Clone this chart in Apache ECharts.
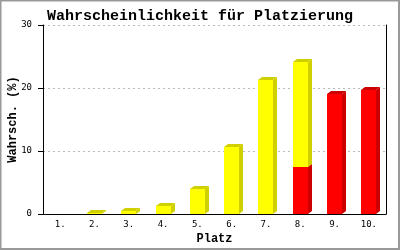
<!DOCTYPE html>
<html><head><meta charset="utf-8">
<script src="https://cdn.jsdelivr.net/npm/echarts@6/dist/echarts.min.js"></script>
<style>html,body{margin:0;padding:0;background:#fff}#c{width:400px;height:250px}</style>
</head><body><div id="c"></div>
<script>
var categories = ['1.', '2.', '3.', '4.', '5.', '6.', '7.', '8.', '9.', '10.'];
var redValues = [0, 0, 0, 0, 0, 0, 0, 7.4, 19.1, 19.7];
var yellowValues = [0, 0.2, 0.4, 1.2, 4.0, 10.7, 21.2, 16.8, 0, 0];
var yTicks = [0, 10, 20, 30];

var FONT = 'Liberation Mono';

function barData(lower, upper) {
  return categories.map(function (c, i) {
    var base = lower ? lower[i] : 0;
    return [i, base, base + upper[i]];
  });
}

function render3D(front, dark) {
  return function (params, api) {
    var i = api.value(0), b = api.value(1), t = api.value(2);
    if (t - b <= 0) return null;
    var pb = api.coord([i, b]);
    var pt = api.coord([i, t]);
    var w = Math.round(api.size([1, 0])[0] * 0.44);
    var x0 = Math.round(pb[0] - 7.5);
    var x1 = x0 + w;
    var yb = Math.round(pb[1]);
    var yt = Math.round(pt[1]);
    var dx = 4, dy = 3;
    return {
      type: 'group',
      children: [
        { type: 'polygon', shape: { points: [[x1, yb], [x1 + dx, yb - dy], [x1 + dx, yt - dy], [x1, yt]] }, style: { fill: dark } },
        { type: 'polygon', shape: { points: [[x0, yt], [x0 + dx, yt - dy], [x1 + dx, yt - dy], [x1, yt]] }, style: { fill: dark } },
        { type: 'rect', shape: { x: x0, y: yt, width: w, height: yb - yt }, style: { fill: front } }
      ]
    };
  };
}

var chart = echarts.init(document.getElementById('c'), null, { renderer: 'canvas' });
chart.setOption({
  animation: false,
  backgroundColor: '#fff',
  title: {
    text: 'Wahrscheinlichkeit für Platzierung',
    left: 'center', top: 4,
    textStyle: { fontFamily: FONT, fontWeight: 'bold', fontSize: 15, color: '#000' }
  },
  grid: { left: 43, right: 14, top: 25, bottom: 36, containLabel: false, outerBoundsMode: 'none' },
  xAxis: {
    type: 'category', data: categories, boundaryGap: true,
    name: 'Platz', nameLocation: 'middle', nameGap: 19, nameMoveOverlap: false,
    nameTextStyle: { fontFamily: FONT, fontWeight: 'bold', fontSize: 12, color: '#000' },
    axisLine: { lineStyle: { color: '#000', width: 1 } },
    axisTick: { show: false },
    axisLabel: { fontFamily: 'DejaVu Sans Mono', fontSize: 9, color: '#000', margin: 6 },
    splitLine: { show: false }
  },
  yAxis: [{
    type: 'value', min: 0, max: 30, interval: 10,
    name: 'Wahrsch. (%)', nameLocation: 'middle', nameGap: 24, nameMoveOverlap: false,
    nameTextStyle: { fontFamily: FONT, fontWeight: 'bold', fontSize: 12, color: '#000' },
    axisLine: { show: true, lineStyle: { color: '#000', width: 1 } },
    axisTick: { show: true, length: 5, lineStyle: { color: '#000' } },
    axisLabel: { fontFamily: 'DejaVu Sans Mono', fontSize: 9, color: '#000', margin: 11,
      formatter: function (v) { return yTicks.indexOf(v) >= 0 ? String(v) : ''; } },
    splitLine: { show: true, lineStyle: { color: '#bbbbbb', type: [2, 3], width: 1 } }
  }, {
    type: 'value', min: 0, max: 30, interval: 10, position: 'right',
    axisLine: { show: true, lineStyle: { color: '#000', width: 1 } },
    axisTick: { show: false }, axisLabel: { show: false }, splitLine: { show: false }
  }],
  graphic: [{
    type: 'rect', shape: { x: 0.5, y: 0.5, width: 398.5, height: 248.5 },
    style: { fill: null, stroke: '#999999', lineWidth: 2 }, silent: true, z: 100
  }],
  series: [{
    type: 'custom', name: 'rot', renderItem: render3D('#ff0000', '#cc0000'),
    encode: { x: 0, y: [1, 2] }, data: barData(null, redValues), z: 3
  }, {
    type: 'custom', name: 'gelb', renderItem: render3D('#ffff00', '#d0d000'),
    encode: { x: 0, y: [1, 2] }, data: barData(redValues, yellowValues), z: 4
  }]
});
</script></body></html>
